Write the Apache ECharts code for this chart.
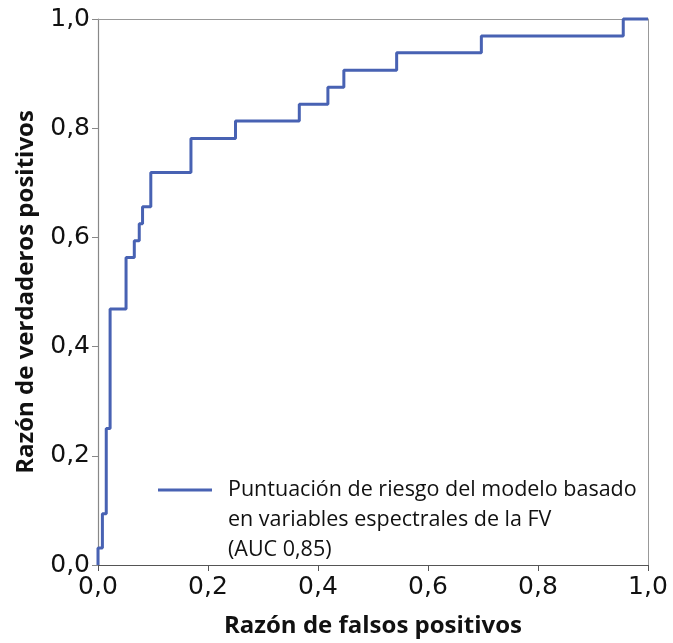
<!DOCTYPE html>
<html><head><meta charset="utf-8">
<script src="https://cdn.jsdelivr.net/npm/echarts@6/dist/echarts.min.js"></script>
<style>html,body{margin:0;padding:0;background:#fff}#c{width:673px;height:643px}</style>
</head><body><div id="c"></div>
<script>
// ROC curve points (false positive rate, true positive rate), drawn as a step line
const fpr = [0, 0, 0.008, 0.015, 0.022, 0.051, 0.066, 0.075, 0.081, 0.096, 0.169, 0.25, 0.366, 0.418, 0.447, 0.543, 0.697, 0.955, 1.0];
const tpr = [0, 0.031, 0.094, 0.25, 0.469, 0.563, 0.594, 0.625, 0.656, 0.719, 0.781, 0.813, 0.844, 0.875, 0.906, 0.938, 0.969, 1.0, 1.0];
const tickLabels = ['0,0', '0,2', '0,4', '0,6', '0,8', '1,0'];
const seriesName = 'Puntuación de riesgo del modelo basado\nen variables espectrales de la FV\n(AUC 0,85)';
const xTitle = 'Razón de falsos positivos';
const yTitle = 'Razón de verdaderos positivos';

const TICKFONT = 'DejaVu Sans';
const FONT = 'Open Sans';
const lbl = v => tickLabels[Math.round(v * 5)];
const chart = echarts.init(document.getElementById('c'), null, {renderer: 'canvas'});
const data = fpr.map((x, i) => [x, tpr[i]]);

chart.setOption({
  animation: false,
  backgroundColor: '#fff',
  grid: {left: 98, right: 25, top: 19, bottom: 72, containLabel: false},
  legend: {
    left: 158, top: 475, padding: 0,
    icon: 'path://M0,0H54V3H0Z M0,63L0.01,63L0,63.01Z', itemWidth: 54, itemHeight: 63,
    data: [seriesName],
    textStyle: {fontFamily: FONT, fontSize: 21.5, color: '#111', lineHeight: 30, padding: [0, 0, 0, 11]}
  },
  xAxis: [{
    type: 'value', min: 0, max: 1, interval: 0.2,
    name: xTitle, nameLocation: 'middle', nameGap: 49,
    nameTextStyle: {fontFamily: FONT, fontSize: 24, fontWeight: 'bold', color: '#111'},
    axisLine: {show: true, lineStyle: {color: '#555', width: 1.2}},
    axisTick: {show: true, length: 6, lineStyle: {color: '#555'}},
    axisLabel: {formatter: lbl, fontFamily: TICKFONT, fontSize: 25, color: '#111', margin: 10},
    splitLine: {show: false}
  }, {
    type: 'value', position: 'top', min: 0, max: 1,
    axisLine: {show: true, onZero: false, lineStyle: {color: '#999'}},
    axisTick: {show: false}, axisLabel: {show: false}, splitLine: {show: false}
  }],
  yAxis: [{
    type: 'value', min: 0, max: 1, interval: 0.2,
    name: yTitle, nameLocation: 'middle', nameGap: 60, nameRotate: 90,
    nameTextStyle: {fontFamily: FONT, fontSize: 24, fontWeight: 'bold', color: '#111'},
    axisLine: {show: true, lineStyle: {color: '#888', width: 1.2}},
    axisTick: {show: true, length: 6, lineStyle: {color: '#888'}},
    axisLabel: {formatter: lbl, fontFamily: TICKFONT, fontSize: 25, color: '#111', margin: 8},
    splitLine: {show: false}
  }, {
    type: 'value', position: 'right', min: 0, max: 1,
    axisLine: {show: true, onZero: false, lineStyle: {color: '#999'}},
    axisTick: {show: false}, axisLabel: {show: false}, splitLine: {show: false}
  }],
  series: [{
    name: seriesName, type: 'line', step: 'end',
    data: data, showSymbol: false, symbol: 'none', clip: false,
    lineStyle: {color: '#4862b3', width: 3},
    itemStyle: {color: '#4862b3'}
  }]
});
</script></body></html>
